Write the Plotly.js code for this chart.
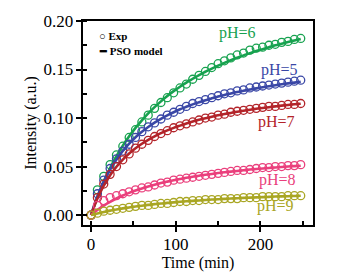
<!DOCTYPE html>
<html><head><meta charset="utf-8">
<script src="https://cdn.plot.ly/plotly-3.0.1.min.js"></script>
<style>html,body{margin:0;padding:0;background:#fff}#chart{width:364px;height:275px}</style>
</head><body><div id="chart"></div>
<script>
const time = [0,7.5,15,22.5,30,37.5,45,52.5,60,67.5,75,82.5,90,97.5,105,112.5,120,127.5,135,142.5,150,157.5,165,172.5,180,187.5,195,202.5,210,217.5,225,232.5,240,247.5];

const exp_pH6 = [0.000,0.026,0.040,0.052,0.062,0.071,0.080,0.088,0.096,0.103,0.110,0.116,0.121,0.126,0.131,0.135,0.140,0.144,0.148,0.152,0.156,0.159,0.162,0.165,0.167,0.170,0.172,0.173,0.175,0.176,0.178,0.179,0.181,0.182];
const exp_pH5 = [0.000,0.022,0.036,0.048,0.058,0.066,0.073,0.080,0.086,0.091,0.095,0.099,0.103,0.106,0.109,0.112,0.115,0.117,0.119,0.121,0.123,0.125,0.126,0.128,0.129,0.131,0.132,0.133,0.134,0.135,0.136,0.137,0.138,0.139];
const exp_pH7 = [0.000,0.018,0.032,0.042,0.050,0.057,0.063,0.069,0.073,0.077,0.081,0.084,0.087,0.090,0.092,0.094,0.096,0.098,0.100,0.101,0.103,0.104,0.106,0.107,0.108,0.109,0.110,0.111,0.112,0.112,0.113,0.114,0.114,0.115];
const exp_pH8 = [0.000,0.010,0.015,0.018,0.020,0.022,0.024,0.026,0.028,0.029,0.031,0.033,0.034,0.036,0.037,0.038,0.039,0.040,0.041,0.042,0.043,0.044,0.045,0.046,0.046,0.047,0.048,0.049,0.049,0.050,0.050,0.051,0.051,0.052];
const exp_pH9 = [0.000,0.002,0.004,0.005,0.006,0.007,0.008,0.009,0.010,0.010,0.011,0.012,0.012,0.013,0.014,0.014,0.015,0.015,0.016,0.016,0.016,0.017,0.017,0.017,0.018,0.018,0.018,0.019,0.019,0.019,0.019,0.020,0.020,0.020];

const pso_pH6 = [0,0.0186,0.0346,0.0485,0.0607,0.0716,0.0812,0.0899,0.0977,0.1049,0.1113,0.1172,0.1227,0.1277,0.1323,0.1366,0.1405,0.1443,0.1477,0.1510,0.1540,0.1569,0.1596,0.1621,0.1646,0.1668,0.1690,0.1710,0.1730,0.1749,0.1766,0.1783,0.1799,0.1815];
const pso_pH5 = [0,0.0192,0.0345,0.0470,0.0574,0.0662,0.0737,0.0802,0.0858,0.0908,0.0953,0.0992,0.1028,0.1060,0.1090,0.1116,0.1141,0.1163,0.1184,0.1203,0.1221,0.1238,0.1253,0.1268,0.1281,0.1294,0.1306,0.1317,0.1328,0.1338,0.1348,0.1357,0.1365,0.1374];
const pso_pH7 = [0,0.0170,0.0303,0.0410,0.0498,0.0572,0.0634,0.0688,0.0735,0.0776,0.0812,0.0844,0.0873,0.0899,0.0922,0.0944,0.0964,0.0982,0.0998,0.1013,0.1028,0.1041,0.1053,0.1065,0.1075,0.1085,0.1095,0.1104,0.1112,0.1120,0.1128,0.1135,0.1142,0.1148];
const pso_pH8 = [0,0.0053,0.0098,0.0137,0.0171,0.0202,0.0229,0.0253,0.0275,0.0295,0.0313,0.0330,0.0345,0.0359,0.0372,0.0384,0.0395,0.0406,0.0415,0.0424,0.0433,0.0441,0.0448,0.0455,0.0462,0.0469,0.0475,0.0480,0.0486,0.0491,0.0496,0.0501,0.0505,0.0509];
const pso_pH9 = [0,0.0017,0.0032,0.0046,0.0058,0.0069,0.0079,0.0089,0.0097,0.0105,0.0113,0.0119,0.0126,0.0131,0.0137,0.0142,0.0147,0.0151,0.0156,0.0160,0.0164,0.0167,0.0171,0.0174,0.0177,0.0180,0.0183,0.0185,0.0188,0.0191,0.0193,0.0195,0.0197,0.0199];

const seriesNames = ['pH=6','pH=5','pH=7','pH=8','pH=9'];
const labelX = [173, 223, 219, 220, 218];
const labelY = [0.188, 0.150, 0.096, 0.036, 0.0097];
const xTicks = [0, 100, 200];
const yTicks = [0.00, 0.05, 0.10, 0.15, 0.20];
const yTickText = ['0.00','0.05','0.10','0.15','0.20'];

const colors = ['#17a24f','#3a47a6','#b3242a','#ea3f7c','#a9a623'];
const expData = [exp_pH6, exp_pH5, exp_pH7, exp_pH8, exp_pH9];
const psoData = [pso_pH6, pso_pH5, pso_pH7, pso_pH8, pso_pH9];

const traces = [];
for (let i = 0; i < 5; i++) {
  traces.push({x: time, y: psoData[i], mode: 'lines', line: {color: colors[i], width: 2.6, shape: 'spline'}, showlegend: false, hoverinfo: 'skip'});
  traces.push({x: time, y: expData[i], mode: 'markers', marker: {symbol: 'circle-open', size: 8, color: colors[i], line: {width: 1.3, color: colors[i]}}, showlegend: false});
}

const font = 'Liberation Serif, Times New Roman, serif';
const annotations = seriesNames.map((n, i) => ({
  x: labelX[i], y: labelY[i], xref: 'x', yref: 'y', text: n, showarrow: false,
  font: {family: font, size: 16, color: colors[i]}, xanchor: 'center', yanchor: 'middle'
}));
annotations.push({x: 0.06, y: 0.925, xref: 'paper', yref: 'paper', text: '○ <b>Exp</b>', showarrow: false, xanchor: 'left', yanchor: 'middle', font: {family: font, size: 11, color: '#000'}});
annotations.push({x: 0.06, y: 0.855, xref: 'paper', yref: 'paper', text: '<b>━ PSO model</b>', showarrow: false, xanchor: 'left', yanchor: 'middle', font: {family: font, size: 11, color: '#000'}});

const axisCommon = {
  showline: true, linecolor: '#000', linewidth: 2.4, mirror: true,
  ticks: 'outside', ticklen: 5, tickwidth: 2, tickcolor: '#000',
  showgrid: false, zeroline: false,
  tickfont: {family: font, size: 17, color: '#000'}
};

const layout = {
  width: 364, height: 275,
  margin: {l: 83, r: 51, t: 13, b: 50},
  paper_bgcolor: '#fff', plot_bgcolor: '#fff',
  showlegend: false,
  xaxis: Object.assign({}, axisCommon, {
    automargin: false,
    range: [-9.5, 262], tickvals: xTicks, ticktext: xTicks.map(String),
    ticklabelstandoff: -3,
    minor: {dtick: 50, tick0: 0, ticks: 'inside', ticklen: 4, tickwidth: 2, tickcolor: '#000'},
    title: {text: 'Time (min)', font: {family: font, size: 16, color: '#000'}, standoff: 0}
  }),
  yaxis: Object.assign({}, axisCommon, {
    automargin: true,
    range: [-0.0102, 0.200], tickvals: yTicks, ticktext: yTickText,
    ticklabelstandoff: -1,
    minor: {dtick: 0.025, tick0: 0, ticks: 'inside', ticklen: 4, tickwidth: 2, tickcolor: '#000'},
    title: {text: 'Intensity (a.u.)', font: {family: font, size: 16, color: '#000'}, standoff: 3}
  }),
  annotations: annotations
};

Plotly.newPlot('chart', traces, layout, {displayModeBar: false, staticPlot: true});
</script></body></html>
